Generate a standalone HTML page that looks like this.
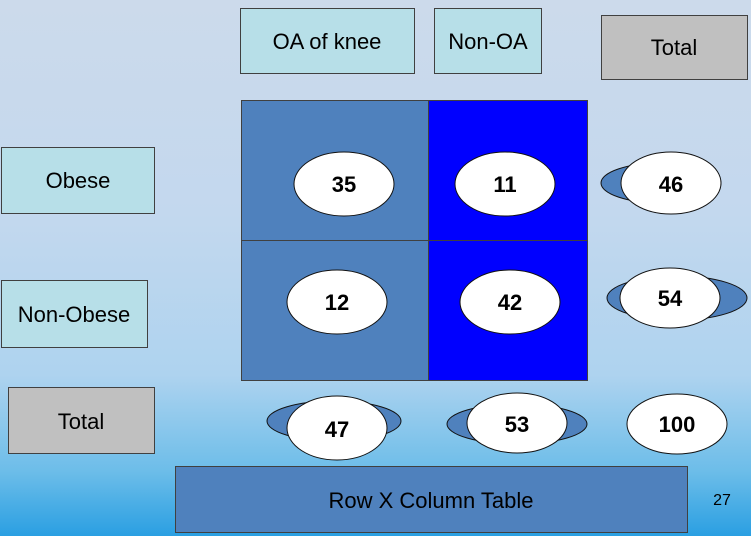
<!DOCTYPE html>
<html><head><style>
html,body{margin:0;padding:0;width:751px;height:536px;overflow:hidden}
body{background:linear-gradient(180deg,#ccdaeb 0%,#c3d8ee 40%,#aed3ef 70%,#6cbde9 88%,#2a9fe2 100%);font-family:"Liberation Sans",sans-serif}
</style></head><body>
<svg width="751" height="536" xmlns="http://www.w3.org/2000/svg" font-family="Liberation Sans, sans-serif">
<g stroke="#404040" stroke-width="1">
<rect x="240.5" y="8.5" width="174" height="65" fill="#b7dfe8"/>
<rect x="434.5" y="8.5" width="107" height="65" fill="#b7dfe8"/>
<rect x="601.5" y="15.5" width="146" height="64" fill="#c0c0c0"/>
<rect x="1.5" y="147.5" width="153" height="66" fill="#b7dfe8"/>
<rect x="1.5" y="280.5" width="146" height="67" fill="#b7dfe8"/>
<rect x="8.5" y="387.5" width="146" height="66" fill="#c0c0c0"/>
<rect x="241.5" y="100.5" width="187" height="140" fill="#4f81bd"/>
<rect x="241.5" y="240.5" width="187" height="140" fill="#4f81bd"/>
<rect x="428.5" y="100.5" width="159" height="140" fill="#0000ff"/>
<rect x="428.5" y="240.5" width="159" height="140" fill="#0000ff"/>
<rect x="175.5" y="466.5" width="512" height="66" fill="#4f81bd"/>
</g>
<g font-size="22" fill="#000" text-anchor="middle">
<text x="327" y="49">OA of knee</text>
<text x="488" y="49">Non-OA</text>
<text x="674" y="55">Total</text>
<text x="78" y="188">Obese</text>
<text x="74" y="322">Non-Obese</text>
<text x="81" y="429">Total</text>
<text x="431" y="508">Row X Column Table</text>
</g>
<text x="722" y="505" font-size="16" text-anchor="middle">27</text>
<g stroke="#111" stroke-width="1">
<ellipse cx="344" cy="184" rx="50" ry="32" fill="#fff"/>
<ellipse cx="505" cy="184" rx="50" ry="32" fill="#fff"/>
<ellipse cx="337" cy="302" rx="50" ry="32" fill="#fff"/>
<ellipse cx="510" cy="302" rx="50" ry="32" fill="#fff"/>
<ellipse cx="661" cy="183" rx="60" ry="20" fill="#4f81bd"/>
<ellipse cx="671" cy="183" rx="50" ry="31" fill="#fff"/>
<ellipse cx="677" cy="298" rx="70" ry="22" fill="#4f81bd"/>
<ellipse cx="670" cy="298" rx="50" ry="30" fill="#fff"/>
<ellipse cx="334" cy="421" rx="67" ry="20" fill="#4f81bd"/>
<ellipse cx="337" cy="428" rx="50" ry="32" fill="#fff"/>
<ellipse cx="517" cy="424" rx="70" ry="20" fill="#4f81bd"/>
<ellipse cx="517" cy="423" rx="50" ry="30" fill="#fff"/>
<ellipse cx="677" cy="424" rx="50" ry="30" fill="#fff"/>
</g>
<g font-size="22" font-weight="bold" text-anchor="middle" fill="#000">
<text x="344" y="192">35</text>
<text x="505" y="192">11</text>
<text x="337" y="310">12</text>
<text x="510" y="310">42</text>
<text x="671" y="192">46</text>
<text x="670" y="306">54</text>
<text x="337" y="437">47</text>
<text x="517" y="432">53</text>
<text x="677" y="432">100</text>
</g>
</svg>
</body></html>
